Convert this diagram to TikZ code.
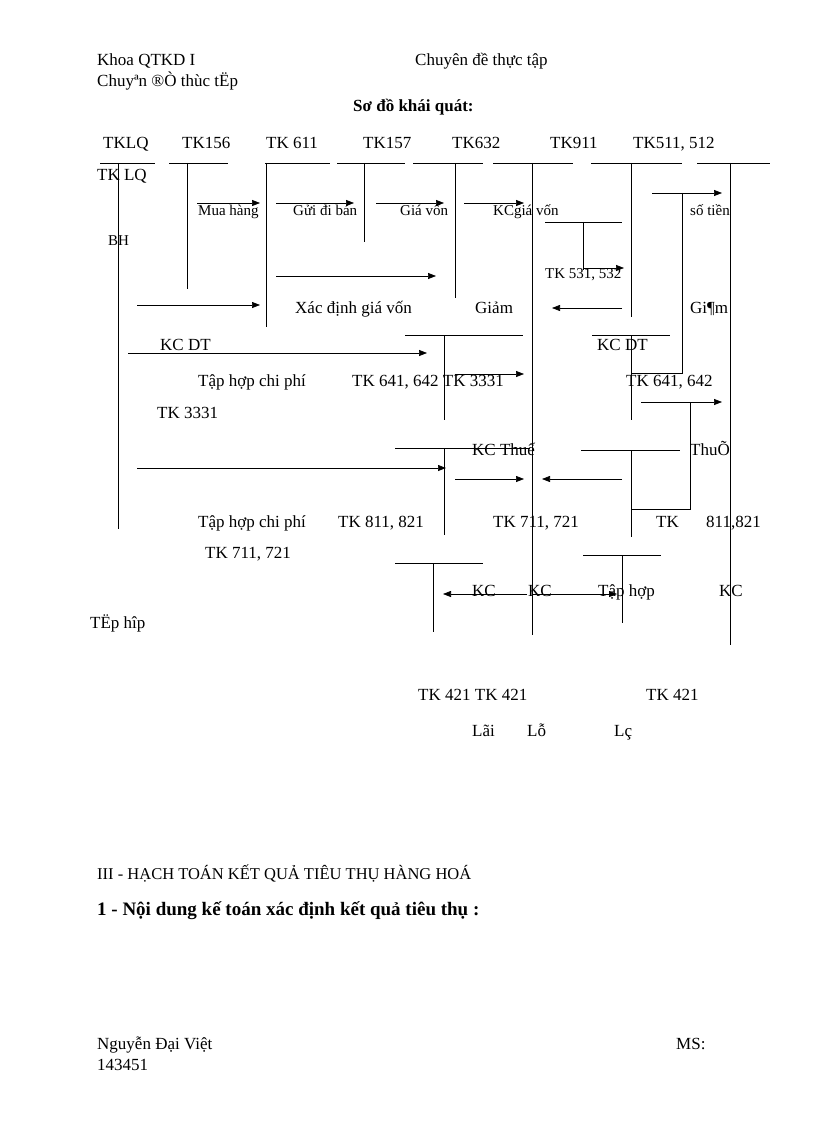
\documentclass[tikz,border=0pt]{standalone}
\usepackage{fontspec}
\setmainfont{Liberation Serif}
\usetikzlibrary{arrows.meta}
\begin{document}
\begin{tikzpicture}[x=1pt,y=-1pt,
  ln/.style={line width=0.7pt},
  ar/.style={line width=0.7pt,-{Triangle[length=8pt,width=6pt]}},
  tx/.style={anchor=base west,inner sep=0pt,yshift=-5.5pt,font=\fontsize{17}{19}\selectfont},
  sm/.style={anchor=base west,inner sep=0pt,yshift=-5pt,font=\fontsize{15}{17}\selectfont}]
\useasboundingbox (0,0) rectangle (816,1123);
% header
\node[tx] (h1) at (97,60) {Khoa QTKD I};
\node[tx] (h2) at (415,60) {Chuyên đề thực tập};
\node[tx] (h3) at (97,81) {Chuyªn ®Ò thùc tËp};
\node[tx,font=\fontsize{17}{19}\selectfont\bfseries] (h4) at (353,106) {Sơ đồ khái quát:};
% top labels
\foreach \x/\t in {103/TKLQ,182/TK156,266/TK 611,363/TK157,452/TK632,550/TK911,633/{TK511, 512}}
  \node[tx] at (\x,143) {\t};
\foreach \a/\b in {100/155,169/228,265/330,337/405,413/483,493/573,591/682,697/770}
  \draw[ln] (\a,163) -- (\b,163);
% verticals
\draw[ln] (118,163) -- (118,529);
\draw[ln] (187,163) -- (187,289);
\draw[ln] (266,163) -- (266,327);
\draw[ln] (364,163) -- (364,242);
\draw[ln] (455,163) -- (455,298);
\draw[ln] (532,163) -- (532,635);
\draw[ln] (631,163) -- (631,317);
\draw[ln] (730,163) -- (730,645);
\node[tx] at (97,175) {TK LQ};
% row 1
\draw[ar] (197,203) -- (260,203);
\draw[ar] (276,203) -- (354,203);
\draw[ar] (376,203) -- (444,203);
\draw[ar] (464,203) -- (524,203);
\node[sm] at (198,210) {Mua hàng};
\node[sm] at (293,210) {Gửi đi bán};
\node[sm] at (400,210) {Giá vốn};
\node[sm] at (493,210) {KCgiá vốn};
\node[sm] at (690,210) {số tiền};
\draw[ar] (652,193) -- (722,193);
\draw[ln] (682,193) -- (682,373) -- (631,373);
\node[sm] at (108,240) {BH};
% small T 531
\draw[ln] (545,222) -- (622,222);
\draw[ln] (583,222) -- (583,270);
\draw[ar] (583,268) -- (624,268);
\node[sm] at (545,273) {TK 531, 532};
\draw[ar] (276,276) -- (436,276);
\draw[ar] (137,305) -- (260,305);
\draw[ar] (622,308) -- (552,308);
\node[tx] at (295,308) {Xác định giá vốn};
\node[tx] at (475,308) {Giảm};
\node[tx] at (690,308) {Gi¶m};
% T 641
\draw[ln] (405,335) -- (523,335);
\draw[ln] (444,335) -- (444,420);
\draw[ln] (592,335) -- (670,335);
\draw[ln] (631,335) -- (631,420);
\node[tx] at (160,345) {KC DT};
\node[tx] at (597,345) {KC DT};
\draw[ar] (128,353) -- (427,353);
\draw[ar] (455,374) -- (524,374);
\node[tx] at (198,381) {Tập hợp chi phí};
\node[tx] at (352,381) {TK 641, 642 TK 3331};
\node[tx] at (626,381) {TK 641, 642};
\draw[ar] (641,402) -- (722,402);
\draw[ln] (690,402) -- (690,509) -- (631,509);
\node[tx] at (157,413) {TK 3331};
% T 3331
\draw[ln] (395,448) -- (530,448);
\draw[ln] (444,448) -- (444,535);
\draw[ln] (581,450) -- (680,450);
\draw[ln] (631,450) -- (631,537);
\node[tx] at (472,450) {KC Thuế};
\node[tx] at (690,450) {ThuÕ};
\draw[ar] (137,468) -- (446,468);
\draw[ar] (455,479) -- (524,479);
\draw[ar] (622,479) -- (542,479);
\node[tx] at (198,522) {Tập hợp chi phí};
\node[tx] at (338,522) {TK 811, 821};
\node[tx] at (493,522) {TK 711, 721};
\node[tx] at (656,522) {TK};
\node[tx] at (706,522) {811,821};
\node[tx] at (205,553) {TK 711, 721};
% T 421
\draw[ln] (395,563) -- (483,563);
\draw[ln] (433,563) -- (433,632);
\draw[ln] (583,555) -- (661,555);
\draw[ln] (622,555) -- (622,623);
\draw[ar] (527,594) -- (443,594);
\draw[ar] (533,594) -- (617,594);
\node[tx] at (472,591) {KC};
\node[tx] at (528,591) {KC};
\node[tx] at (598,591) {Tập hợp};
\node[tx] at (719,591) {KC};
\node[tx] at (90,623) {TËp hîp};
\node[tx] at (418,695) {TK 421 TK 421};
\node[tx] at (646,695) {TK 421};
\node[tx] at (472,731) {Lãi};
\node[tx] at (527,731) {Lỗ};
\node[tx] at (614,731) {Lç};
% section
\node[anchor=base west,inner sep=0pt,yshift=-5.5pt,font=\fontsize{16.5}{18}\selectfont] at (97,874) {III - HẠCH TOÁN KẾT QUẢ TIÊU THỤ HÀNG HOÁ};
\node[anchor=base west,inner sep=0pt,yshift=-6pt,font=\fontsize{19}{21}\selectfont\bfseries] at (97,909) {1 - Nội dung kế toán xác định kết quả tiêu thụ :};
% footer
\node[tx] at (97,1044) {Nguyễn Đại Việt};
\node[tx] at (676,1044) {MS:};
\node[tx] at (97,1065) {143451};
\end{tikzpicture}
\end{document}
